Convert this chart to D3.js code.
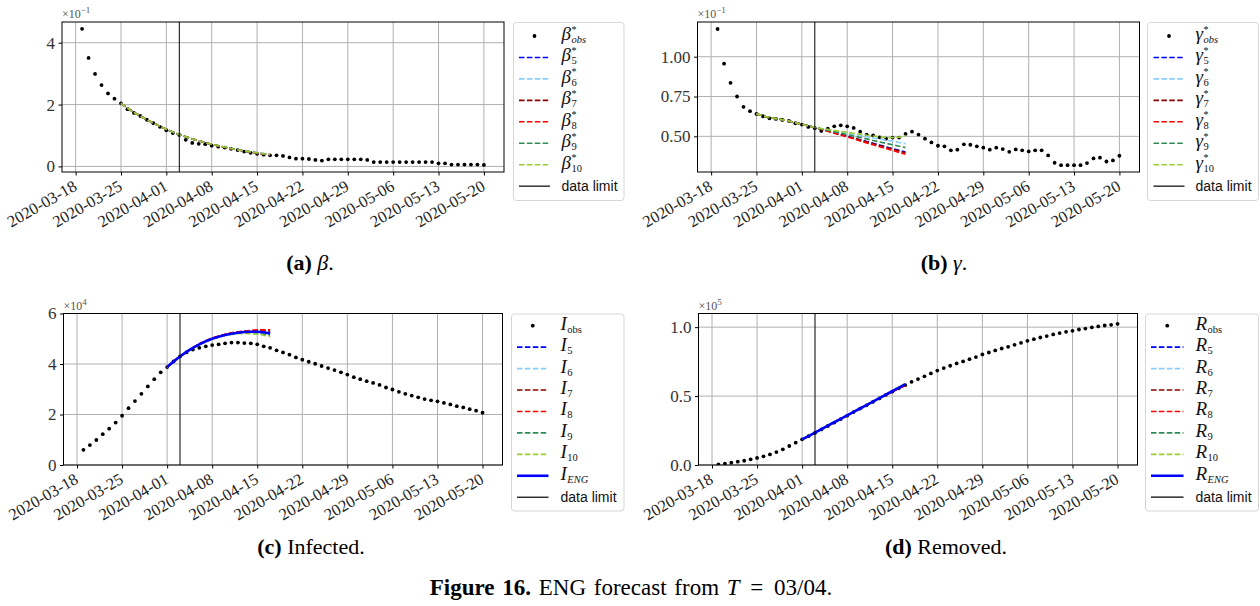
<!DOCTYPE html>
<html><head><meta charset="utf-8">
<script src="https://cdn.jsdelivr.net/npm/d3@7"></script>
<style>body{margin:0;background:#fff}svg{display:block}</style>
</head><body><svg id="c" width="1260" height="606"></svg>
<script>
// ---------------- DATA ----------------
const obsStart = "2020-03-19";
const obsEnd = "2020-05-20";
const limitDate = "2020-04-03";
const tickLabels = ["2020-03-18","2020-03-25","2020-04-01","2020-04-08","2020-04-15","2020-04-22","2020-04-29","2020-05-06","2020-05-13","2020-05-20"];

// beta (×10^-1), daily from 2020-03-19
const betaObs = [4.45,3.51,2.99,2.63,2.36,2.19,2.04,1.85,1.73,1.63,1.51,1.40,1.28,
  1.17,1.08,1.02,0.86,0.76,0.73,0.72,0.67,0.64,0.61,0.57,0.53,0.48,0.44,0.41,0.38,0.36,0.36,0.34,0.29,0.25,0.25,0.24,0.21,0.19,0.23,0.23,0.23,0.23,0.23,
  0.23,0.21,0.14,0.14,0.14,0.14,0.14,0.14,0.14,0.14,0.14,0.14,0.10,0.10,0.06,0.06,0.06,0.06,0.06,0.05];
const betaFcStart = "2020-03-25";
const betaFc5  = [2.04,1.89,1.75,1.63,1.51,1.40,1.30,1.20,1.11,1.03,0.96,0.89,0.83,0.77,0.72,0.67,0.62,0.58,0.54,0.50,0.47,0.43,0.40,0.37];
const betaFc6  = [2.04,1.89,1.75,1.63,1.51,1.40,1.30,1.20,1.11,1.03,0.96,0.89,0.83,0.77,0.72,0.67,0.62,0.58,0.54,0.50,0.47,0.44,0.41,0.38];
const betaFc7  = [2.04,1.89,1.75,1.63,1.51,1.40,1.30,1.20,1.11,1.03,0.96,0.89,0.83,0.77,0.72,0.67,0.62,0.58,0.54,0.50,0.47,0.43,0.40,0.37];
const betaFc8  = [2.04,1.89,1.75,1.63,1.51,1.40,1.30,1.20,1.11,1.03,0.96,0.89,0.83,0.77,0.72,0.66,0.62,0.57,0.53,0.50,0.46,0.43,0.40,0.37];
const betaFc9  = [2.04,1.89,1.75,1.63,1.51,1.40,1.30,1.20,1.11,1.03,0.96,0.89,0.83,0.77,0.72,0.67,0.62,0.58,0.54,0.50,0.47,0.44,0.41,0.38];
const betaFc10 = [2.04,1.89,1.75,1.63,1.51,1.40,1.30,1.20,1.11,1.03,0.96,0.89,0.83,0.77,0.72,0.67,0.63,0.58,0.54,0.51,0.47,0.44,0.41,0.39];

// gamma (×10^-1), daily from 2020-03-19
const gammaObs = [1.174,0.956,0.836,0.750,0.685,0.658,0.641,0.626,0.613,0.609,0.603,0.597,0.582,
  0.574,0.559,0.551,0.534,0.548,0.563,0.569,0.563,0.553,0.529,0.511,0.506,0.494,0.485,0.492,0.492,0.515,0.529,0.511,0.485,0.462,0.441,0.437,0.412,0.416,0.450,0.447,0.437,0.429,0.416,
  0.429,0.420,0.403,0.418,0.412,0.405,0.412,0.412,0.380,0.334,0.319,0.319,0.319,0.319,0.332,0.361,0.366,0.342,0.349,0.378];
const gammaFcStart = "2020-03-25";
const gammaFc5  = [0.641,0.628,0.618,0.611,0.604,0.596,0.586,0.576,0.566,0.556,0.545,0.534,0.523,0.512,0.501,0.490,0.479,0.468,0.457,0.445,0.434,0.423,0.412,0.401];
const gammaFc6  = [0.641,0.628,0.618,0.611,0.604,0.596,0.586,0.576,0.566,0.556,0.549,0.542,0.534,0.527,0.520,0.512,0.505,0.498,0.490,0.483,0.476,0.469,0.461,0.454];
const gammaFc7  = [0.641,0.628,0.618,0.611,0.604,0.596,0.586,0.576,0.566,0.556,0.545,0.533,0.522,0.511,0.499,0.488,0.477,0.466,0.454,0.443,0.431,0.420,0.408,0.397];
const gammaFc8  = [0.641,0.628,0.618,0.611,0.604,0.596,0.586,0.576,0.566,0.556,0.544,0.532,0.520,0.508,0.496,0.484,0.471,0.459,0.447,0.435,0.423,0.411,0.399,0.387];
const gammaFc9  = [0.641,0.628,0.618,0.611,0.604,0.596,0.586,0.576,0.566,0.556,0.547,0.538,0.529,0.520,0.511,0.502,0.493,0.484,0.474,0.465,0.456,0.447,0.438,0.429];
const gammaFc10 = [0.641,0.628,0.618,0.611,0.604,0.596,0.586,0.576,0.566,0.556,0.549,0.543,0.537,0.531,0.525,0.519,0.513,0.507,0.502,0.497,0.493,0.492,0.495,0.503];

// infected (×10^4), daily from 2020-03-19
const infObs = [0.60,0.79,0.99,1.22,1.44,1.68,1.95,2.25,2.53,2.82,3.11,3.40,3.67,
  3.88,4.10,4.30,4.46,4.57,4.64,4.70,4.75,4.78,4.82,4.85,4.85,4.83,4.82,4.78,4.70,4.64,4.54,4.46,4.37,4.26,4.17,4.09,4.01,3.92,3.84,3.76,3.67,3.58,3.48,
  3.40,3.32,3.25,3.17,3.07,2.99,2.90,2.82,2.75,2.68,2.61,2.56,2.52,2.46,2.40,2.33,2.28,2.21,2.15,2.07];
const infFcStart = "2020-04-01";
const infFc5   = [3.88,4.10,4.30,4.48,4.64,4.78,4.90,5.00,5.09,5.16,5.21,5.25,5.28,5.29,5.29,5.28,5.27];
const infFc6   = [3.88,4.10,4.30,4.48,4.64,4.78,4.90,5.00,5.08,5.15,5.20,5.24,5.26,5.27,5.27,5.26,5.24];
const infFc7   = [3.88,4.10,4.30,4.48,4.65,4.79,4.91,5.02,5.10,5.17,5.23,5.27,5.30,5.32,5.33,5.33,5.32];
const infFc8   = [3.88,4.10,4.30,4.49,4.65,4.80,4.92,5.03,5.11,5.18,5.24,5.28,5.31,5.33,5.35,5.35,5.35];
const infFc9   = [3.88,4.10,4.30,4.48,4.64,4.78,4.90,5.00,5.08,5.14,5.19,5.22,5.23,5.23,5.22,5.19,5.14];
const infFc10  = [3.88,4.10,4.30,4.48,4.64,4.77,4.89,4.99,5.07,5.13,5.17,5.20,5.21,5.20,5.18,5.14,5.08];
const infEng   = [3.88,4.10,4.30,4.48,4.64,4.78,4.90,5.00,5.08,5.15,5.20,5.24,5.27,5.28,5.28,5.26,5.21];

// removed (×10^5), daily from 2020-03-19
const remObs = [0.005,0.010,0.017,0.024,0.031,0.041,0.051,0.063,0.077,0.094,0.114,0.138,0.162,
  0.186,0.209,0.233,0.258,0.283,0.308,0.333,0.358,0.384,0.409,0.433,0.458,0.483,0.508,0.532,0.556,0.579,0.603,0.623,0.643,0.664,0.685,0.703,0.720,0.737,0.751,0.768,0.783,0.802,0.816,
  0.831,0.845,0.857,0.872,0.886,0.901,0.913,0.925,0.935,0.947,0.957,0.966,0.973,0.983,0.990,0.998,1.005,1.012,1.017,1.024];
const remFcStart = "2020-04-01";
const remFc5  = [0.186,0.210,0.235,0.260,0.285,0.310,0.335,0.360,0.385,0.410,0.435,0.460,0.485,0.509,0.534,0.558,0.582];
const remFc6  = [0.186,0.210,0.235,0.260,0.285,0.310,0.335,0.360,0.385,0.410,0.435,0.460,0.485,0.510,0.535,0.560,0.585];
const remFc7  = [0.186,0.210,0.235,0.260,0.285,0.310,0.335,0.360,0.385,0.410,0.435,0.460,0.484,0.508,0.532,0.555,0.578];
const remFc8  = [0.186,0.210,0.235,0.260,0.285,0.310,0.335,0.360,0.385,0.410,0.435,0.459,0.483,0.507,0.530,0.553,0.575];
const remFc9  = [0.186,0.210,0.235,0.260,0.285,0.310,0.335,0.360,0.385,0.410,0.435,0.460,0.486,0.512,0.537,0.563,0.588];
const remFc10 = [0.186,0.210,0.235,0.260,0.285,0.310,0.335,0.360,0.385,0.410,0.435,0.461,0.487,0.513,0.539,0.566,0.592];
const remEng  = [0.186,0.210,0.235,0.260,0.285,0.310,0.335,0.360,0.385,0.410,0.435,0.460,0.485,0.510,0.535,0.560,0.585];

const modelColors = ["#0000ff","#87cefa","#8b0000","#ff0000","#2e8b57","#9acd32"];
const modelIds = ["5","6","7","8","9","10"];

// ---------------- DRAW ----------------
const svg = d3.select("#c");
const parse = d3.utcParse("%Y-%m-%d");
const DAY = 864e5;
const SERIF = "'Liberation Serif', 'DejaVu Serif', serif";
const SANS = "'Liberation Sans', Arial, sans-serif";
const seq = (start, n) => d3.range(n).map(i => d3.utcDay.offset(parse(start), i));

function mathLabel(g, x, cy, base, sup, sub, subItalic) {
  const t = g.append("text").attr("x", x).attr("y", cy + 4).attr("font-family", SERIF)
    .attr("font-style", "italic").attr("font-size", 19).attr("fill", "#111").text(base);
  const w = t.node().getComputedTextLength();
  if (sup) g.append("text").attr("x", x + w + 0.5).attr("y", cy - 3.5).attr("font-family", SERIF)
    .attr("font-size", 10).attr("fill", "#111").text(sup);
  if (sub) g.append("text").attr("x", x + w + 0.5).attr("y", cy + 7).attr("font-family", SERIF)
    .attr("font-style", subItalic ? "italic" : "normal").attr("font-size", 10.5).attr("fill", "#111").text(sub);
}

function panel(p) {
  const g = svg.append("g");
  const x = d3.scaleUtc()
    .domain([new Date(+parse(obsStart) - 3.1 * DAY), new Date(+parse(obsEnd) + 3.1 * DAY)])
    .range([p.left, p.right]);
  const y = d3.scaleLinear().domain(p.yDomain).range([p.bottom, p.top]);
  const xt = tickLabels.map(parse);
  const clipId = "clip" + p.id;
  svg.append("clipPath").attr("id", clipId).append("rect")
    .attr("x", p.left).attr("y", p.top).attr("width", p.right - p.left).attr("height", p.bottom - p.top);

  // grid
  g.append("g").selectAll("line").data(xt).join("line")
    .attr("x1", d => x(d)).attr("x2", d => x(d)).attr("y1", p.top).attr("y2", p.bottom)
    .attr("stroke", "#b0b0b0").attr("stroke-width", 1);
  g.append("g").selectAll("line").data(p.yTicks).join("line")
    .attr("y1", d => y(d)).attr("y2", d => y(d)).attr("x1", p.left).attr("x2", p.right)
    .attr("stroke", "#b0b0b0").attr("stroke-width", 1);

  const plot = g.append("g").attr("clip-path", `url(#${clipId})`);
  // observations
  const od = seq(obsStart, p.obs.length);
  plot.append("g").selectAll("circle").data(p.obs).join("circle")
    .attr("cx", (d, i) => x(od[i])).attr("cy", d => y(d)).attr("r", 1.9).attr("fill", "#000");
  // forecasts
  const line = d3.line().x(d => x(d[0])).y(d => y(d[1]));
  p.fcs.forEach((f, k) => {
    const fd = seq(p.fcStart, f.length);
    plot.append("path").datum(f.map((v, i) => [fd[i], v])).attr("d", line)
      .attr("fill", "none").attr("stroke", modelColors[k]).attr("stroke-width", 1.6)
      .attr("stroke-dasharray", "5.5,2.4");
  });
  if (p.eng) {
    const fd = seq(p.fcStart, p.eng.length);
    plot.append("path").datum(p.eng.map((v, i) => [fd[i], v])).attr("d", line)
      .attr("fill", "none").attr("stroke", "#0000ff").attr("stroke-width", 2.6);
  }
  // data limit
  g.append("line").attr("x1", x(parse(limitDate))).attr("x2", x(parse(limitDate)))
    .attr("y1", p.top).attr("y2", p.bottom).attr("stroke", "#000").attr("stroke-width", 1);

  // axes
  const ax = g.append("g").attr("transform", `translate(0,${p.bottom})`)
    .call(d3.axisBottom(x).tickValues(xt).tickFormat(d3.utcFormat("%Y-%m-%d")).tickSize(3.5));
  ax.attr("font-family", SERIF).attr("font-size", 16.5);
  ax.select(".domain").remove();
  ax.selectAll("text").attr("font-family", SERIF).attr("font-size", 16.5).attr("fill", "#222")
    .attr("text-anchor", "end").attr("x", -4).attr("y", 7).attr("dy", "0.72em")
    .attr("transform", "rotate(-30,-4,7)");
  const ay = g.append("g").attr("transform", `translate(${p.left},0)`)
    .call(d3.axisLeft(y).tickValues(p.yTicks).tickFormat(p.yFmt).tickSize(3.5).tickPadding(3.5));
  ay.attr("font-family", SERIF).attr("font-size", 17);
  ay.select(".domain").remove();
  ay.selectAll("text").attr("font-family", SERIF).attr("font-size", 17).attr("fill", "#333");

  // frame
  g.append("rect").attr("x", p.left).attr("y", p.top).attr("width", p.right - p.left)
    .attr("height", p.bottom - p.top).attr("fill", "none").attr("stroke", "#000").attr("stroke-width", 1);

  // multiplier
  const mt = g.append("text").attr("x", p.left).attr("y", p.top - 4).attr("font-family", SERIF)
    .attr("font-size", 12).attr("fill", "#555");
  mt.append("tspan").text("×10");
  mt.append("tspan").attr("dy", -5).attr("font-size", 9).text(p.mult);

  // legend
  const L = p.legend;
  const lg = svg.append("g");
  lg.append("rect").attr("x", L.x).attr("y", L.y).attr("width", L.w).attr("height", L.h)
    .attr("rx", 3).attr("fill", "#fff").attr("fill-opacity", 0.8).attr("stroke", "#d6d6d6");
  L.rows.forEach((r, i) => {
    const cy = L.y0 + i * L.dy;
    if (r.type === "dot") {
      lg.append("circle").attr("cx", (L.h0 + L.h1) / 2).attr("cy", cy).attr("r", 1.9).attr("fill", "#000");
    } else {
      lg.append("line").attr("x1", L.h0).attr("x2", L.h1).attr("y1", cy).attr("y2", cy)
        .attr("stroke", r.color).attr("stroke-width", r.width)
        .attr("stroke-dasharray", r.dash ? "5.5,2.4" : null);
    }
    if (r.plain) {
      lg.append("text").attr("x", L.tx).attr("y", cy + 5).attr("font-family", SANS)
        .attr("font-size", 14).attr("fill", "#111").text(r.plain);
    } else {
      mathLabel(lg, L.tx, cy, r.base, r.sup, r.sub, r.subItalic);
    }
  });
}

function legendRows(base, sup, obsItalic, withEng) {
  const rows = [{ type: "dot", base, sup, sub: "obs", subItalic: obsItalic }];
  modelIds.forEach((m, k) => rows.push({ type: "line", dash: true, color: modelColors[k], width: 1.6, base, sup, sub: m }));
  if (withEng) rows.push({ type: "line", dash: false, color: "#0000ff", width: 2.6, base, sup, sub: "ENG", subItalic: true });
  rows.push({ type: "line", dash: false, color: "#000", width: 1.2, plain: "data limit" });
  return rows;
}

panel({
  id: "a", left: 62, right: 504, top: 22, bottom: 172,
  yDomain: [-0.18, 4.67], yTicks: [0, 2, 4], yFmt: d3.format("d"), mult: "−1",
  obs: betaObs, fcStart: betaFcStart, fcs: [betaFc5, betaFc6, betaFc7, betaFc8, betaFc9, betaFc10],
  legend: { x: 513.5, y: 22.5, w: 110.5, h: 178, y0: 36, dy: 21.45, h0: 519, h1: 550, tx: 561.5,
    rows: legendRows("β", "*", true, false) }
});
panel({
  id: "b", left: 697.5, right: 1139.5, top: 22, bottom: 172,
  yDomain: [0.276, 1.218], yTicks: [0.5, 0.75, 1.0], yFmt: d3.format(".2f"), mult: "−1",
  obs: gammaObs, fcStart: gammaFcStart, fcs: [gammaFc5, gammaFc6, gammaFc7, gammaFc8, gammaFc9, gammaFc10],
  legend: { x: 1147.5, y: 22.5, w: 111, h: 178, y0: 36, dy: 21.45, h0: 1153.5, h1: 1184.5, tx: 1195.5,
    rows: legendRows("γ", "*", true, false) }
});
panel({
  id: "c", left: 63.5, right: 502.5, top: 313.5, bottom: 465,
  yDomain: [0, 6], yTicks: [0, 2, 4, 6], yFmt: d3.format("d"), mult: "4",
  obs: infObs, fcStart: infFcStart, fcs: [infFc5, infFc6, infFc7, infFc8, infFc9, infFc10], eng: infEng,
  legend: { x: 511.5, y: 314, w: 112.5, h: 197, y0: 325.7, dy: 21.44, h0: 517, h1: 548.5, tx: 560.5,
    rows: legendRows("I", null, false, true) }
});
panel({
  id: "d", left: 698.5, right: 1137.5, top: 313.5, bottom: 465,
  yDomain: [0, 1.099], yTicks: [0, 0.5, 1.0], yFmt: d3.format(".1f"), mult: "5",
  obs: remObs, fcStart: remFcStart, fcs: [remFc5, remFc6, remFc7, remFc8, remFc9, remFc10], eng: remEng,
  legend: { x: 1145.5, y: 314, w: 113, h: 197, y0: 325.7, dy: 21.44, h0: 1151, h1: 1183.5, tx: 1195.5,
    rows: legendRows("R", null, false, true) }
});

// captions
function caption(cx, y, parts, size, ws) {
  const t = svg.append("text").attr("x", cx).attr("y", y).attr("text-anchor", "middle")
    .attr("font-family", SERIF).attr("font-size", size).attr("fill", "#000")
    .attr("word-spacing", ws || 0);
  parts.forEach(pp => t.append("tspan").attr("font-weight", pp.b ? "bold" : "normal")
    .attr("font-style", pp.i ? "italic" : "normal").attr("dx", pp.dx || 0).text(pp.t));
}
caption(310, 270, [{ t: "(a)", b: true }, { t: " " }, { t: "β", i: true }, { t: "." }], 22);
caption(944, 270, [{ t: "(b)", b: true }, { t: " " }, { t: "γ", i: true }, { t: "." }], 22);
caption(311, 554, [{ t: "(c)", b: true }, { t: " Infected." }], 22);
caption(946, 554, [{ t: "(d)", b: true }, { t: " Removed." }], 22);
caption(631, 595, [{ t: "Figure 16.", b: true }, { t: " ENG forecast from " }, { t: "T", i: true },
  { t: " = ", dx: 3 }, { t: "03/04.", dx: 3 }], 23, 2);
</script></body></html>
